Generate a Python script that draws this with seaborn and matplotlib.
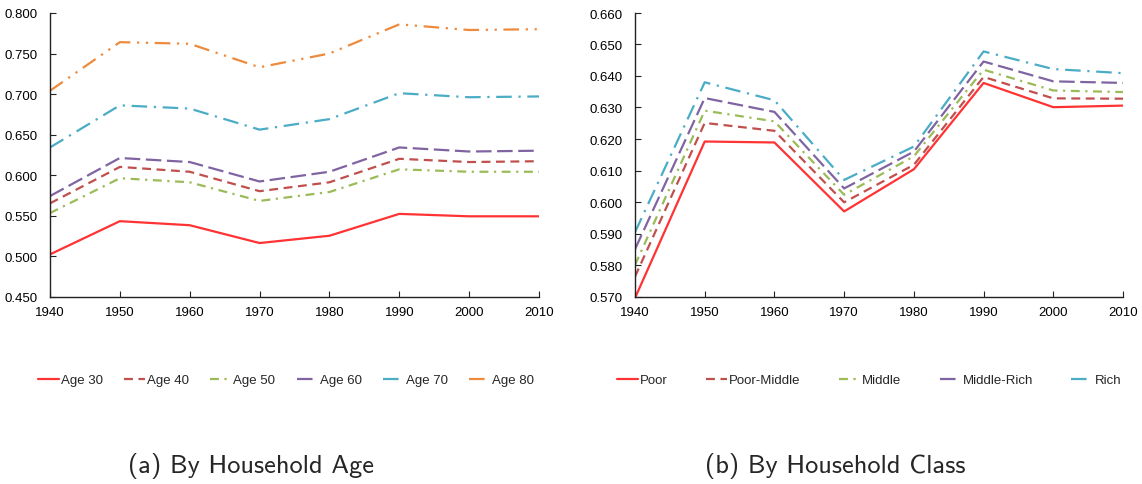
import matplotlib
matplotlib.use("Agg")
import matplotlib.pyplot as plt
import seaborn as sns
import pandas as pd

years = [1940, 1950, 1960, 1970, 1980, 1990, 2000, 2010]

# Panel (a): by household age
age_labels = ["Age 30", "Age 40", "Age 50", "Age 60", "Age 70", "Age 80"]
age_30 = [0.502, 0.543, 0.538, 0.516, 0.525, 0.552, 0.549, 0.549]
age_40 = [0.565, 0.610, 0.604, 0.580, 0.591, 0.620, 0.616, 0.617]
age_50 = [0.553, 0.596, 0.591, 0.568, 0.579, 0.607, 0.604, 0.604]
age_60 = [0.574, 0.621, 0.616, 0.592, 0.604, 0.634, 0.629, 0.630]
age_70 = [0.634, 0.686, 0.682, 0.656, 0.669, 0.701, 0.696, 0.697]
age_80 = [0.704, 0.764, 0.762, 0.733, 0.750, 0.786, 0.779, 0.780]
age_series = [age_30, age_40, age_50, age_60, age_70, age_80]

# Panel (b): by household class
class_labels = ["Poor", "Poor-Middle", "Middle", "Middle-Rich", "Rich"]
poor = [0.5695, 0.6192, 0.6189, 0.5970, 0.6104, 0.6378, 0.6301, 0.6306]
poor_middle = [0.5763, 0.6251, 0.6226, 0.5999, 0.6118, 0.6397, 0.6329, 0.6328]
middle = [0.5800, 0.6290, 0.6256, 0.6023, 0.6145, 0.6420, 0.6354, 0.6349]
middle_rich = [0.5850, 0.6330, 0.6286, 0.6043, 0.6160, 0.6446, 0.6383, 0.6378]
rich = [0.5904, 0.6380, 0.6323, 0.6070, 0.6176, 0.6478, 0.6422, 0.6409]
class_series = [poor, poor_middle, middle, middle_rich, rich]

colors = ["#FF3333", "#C0504D", "#9BBB59", "#8064A2", "#4BACC6", "#EE8A3C"]
dash_patterns = ["", (4, 2.5), (4, 2.5, 1, 2.5), (7, 2.5), (7, 3, 1, 3),
                 (7, 3, 1, 3, 1, 3)]

sns.set_theme(style="white")
plt.rcParams["font.family"] = ["Liberation Sans", "DejaVu Sans"]

fig = plt.figure(figsize=(11.42, 4.85), dpi=100)
W, H = 1142, 485


def axes_px(x0, x1, y0, y1):
    return fig.add_axes([x0 / W, 1 - y1 / H, (x1 - x0) / W, (y1 - y0) / H])


def long_frame(labels, series):
    rows = []
    for lab, vals in zip(labels, series):
        for yr, v in zip(years, vals):
            rows.append({"year": yr, "value": v, "group": lab})
    return pd.DataFrame(rows)


def draw_panel(ax, labels, series, ylim, yticks):
    df = long_frame(labels, series)
    pal = {lab: colors[i] for i, lab in enumerate(labels)}
    dsh = {lab: dash_patterns[i] for i, lab in enumerate(labels)}
    sns.lineplot(data=df, x="year", y="value", hue="group", style="group",
                 hue_order=labels, style_order=labels, palette=pal,
                 dashes=dsh, linewidth=1.6, ax=ax, legend=False)
    ax.set_xlim(1940, 2010)
    ax.set_ylim(*ylim)
    ax.set_xticks(years)
    ax.set_yticks(yticks)
    ax.set_yticklabels([f"{t:.3f}" for t in yticks])
    ax.set_xlabel("")
    ax.set_ylabel("")
    for s in ["top", "right"]:
        ax.spines[s].set_visible(False)
    for s in ["left", "bottom"]:
        ax.spines[s].set_color("#222222")
        ax.spines[s].set_linewidth(1.0)
    ax.tick_params(axis="both", direction="in", length=4, width=0.8,
                   colors="#222222", labelsize=9.5, labelcolor="black")
    ax.tick_params(axis="y", pad=9)
    ax.tick_params(axis="x", pad=7)
    ax.tick_params(left=True, bottom=True)


ax1 = axes_px(50, 539, 14, 297.5)
draw_panel(ax1, age_labels, age_series, (0.45, 0.80),
           [0.45, 0.50, 0.55, 0.60, 0.65, 0.70, 0.75, 0.80])

ax2 = axes_px(635, 1123, 14, 297.5)
draw_panel(ax2, class_labels, class_series, (0.57, 0.66),
           [0.57, 0.58, 0.59, 0.60, 0.61, 0.62, 0.63, 0.64, 0.65, 0.66])

# Legends below each panel
for ax, labels, cx, cs in [(ax1, age_labels, 286, 1.6),
                           (ax2, class_labels, 869, 2.9)]:
    handles = ax.get_lines()[:len(labels)]
    fig.legend(handles, labels, loc="center", ncol=len(labels),
               bbox_to_anchor=(cx / W, 1 - 381 / H), frameon=False,
               fontsize=9.5, handlelength=1.6, handletextpad=0.15,
               columnspacing=cs, borderpad=0)

# Sub-captions
cap_font = dict(fontsize=19, family=["cmss10", "DejaVu Sans"])
fig.text(251 / W, 1 - 466 / H, "(a) By Household Age", ha="center",
         va="center", **cap_font)
fig.text(835 / W, 1 - 466 / H, "(b) By Household Class", ha="center",
         va="center", **cap_font)

fig.savefig("out.png", dpi=100)
